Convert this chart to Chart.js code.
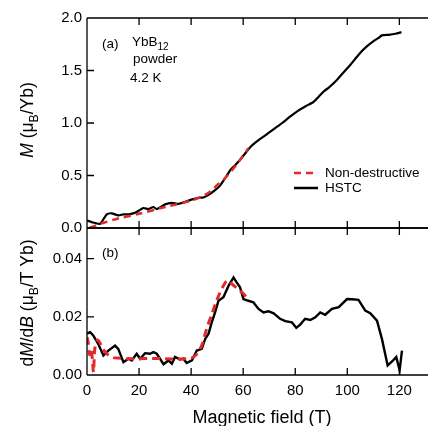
<!DOCTYPE html>
<html>
<head>
<meta charset="utf-8">
<script src="https://cdn.jsdelivr.net/npm/chart.js@4.4.0/dist/chart.umd.min.js"></script>
<style>
  body { margin: 0; background: #fff; }
  #wrap { position: relative; width: 429px; height: 426px; }
  canvas { position: absolute; left: 0; }
  #topChart { top: 0; }
  #botChart { top: 227px; }
</style>
</head>
<body>
<div id="wrap">
  <canvas id="topChart" width="429" height="240"></canvas>
  <canvas id="botChart" width="429" height="199"></canvas>
</div>
<script>
const FONT = "'Liberation Sans', Arial, Helvetica, sans-serif";
const RED = "#e3292b";

// tick labels
const tickB = [0, 20, 40, 60, 80, 100, 120];
const tickM = [0, 0.5, 1.0, 1.5, 2.0];
const tickD = [0, 0.02, 0.04];

// (a) magnetization, HSTC
const hstcB = [0, 1.8, 5, 7.6, 9.5, 12, 14, 16, 18.5, 21.7, 23.6, 25.5, 26.8, 30, 32.6, 35.1, 37.7, 40.1, 43.3, 44.7, 47, 49.2, 51, 52.4, 54, 55, 57, 58.8, 62.7, 65, 67.8, 70, 73, 75, 78, 81.3, 84, 87, 89, 90.9, 93, 96, 98.5, 101.2, 103, 105, 107.5, 110.1, 112, 113.3, 115.9, 118.5, 120.8];
const hstcM = [0.072, 0.056, 0.04, 0.13, 0.14, 0.12, 0.13, 0.13, 0.145, 0.19, 0.18, 0.2, 0.18, 0.225, 0.24, 0.23, 0.25, 0.27, 0.29, 0.29, 0.32, 0.36, 0.4, 0.45, 0.51, 0.55, 0.6, 0.65, 0.77, 0.82, 0.87, 0.91, 0.965, 1.0, 1.06, 1.12, 1.16, 1.2, 1.25, 1.3, 1.34, 1.41, 1.48, 1.555, 1.61, 1.67, 1.73, 1.78, 1.81, 1.835, 1.84, 1.85, 1.865];

// (a) magnetization, non-destructive
const ndB = [1, 4, 7, 12, 20, 30, 40, 45, 48, 50, 52, 54, 56, 58, 60, 62];
const ndM = [0, 0.03, 0.055, 0.09, 0.135, 0.2, 0.26, 0.31, 0.36, 0.41, 0.45, 0.5, 0.56, 0.62, 0.69, 0.76];

// (b) dM/dB, HSTC
const hstcDB = [0, 1.2, 2.4, 4.3, 6.3, 8.2, 10.8, 12, 14, 15.9, 17.2, 19.1, 20.4, 22.3, 24.2, 25.5, 26.8, 29.4, 31.3, 32.6, 33.8, 35.8, 37, 38.3, 40.3, 42.2, 44.1, 45.4, 46.7, 47.9, 49.2, 50.5, 52.4, 54.4, 56.3, 57.5, 58.8, 60.1, 62, 63.9, 65.9, 67.8, 69.7, 71.7, 74.2, 76.2, 78.7, 80.4, 81.9, 83.8, 85.8, 87.7, 89.6, 91.5, 94.1, 96.7, 99.9, 101.8, 104.3, 106.9, 108.8, 111.4, 113.3, 115.5, 117.6, 118.8, 120.1, 121];
const hstcD = [0.0142, 0.0147, 0.0136, 0.0107, 0.0067, 0.0084, 0.0101, 0.009, 0.0044, 0.0056, 0.005, 0.0073, 0.0056, 0.0075, 0.0073, 0.0079, 0.0073, 0.0037, 0.005, 0.0039, 0.0062, 0.0053, 0.0056, 0.0041, 0.005, 0.0084, 0.009, 0.0124, 0.0142, 0.018, 0.0215, 0.0255, 0.0267, 0.0307, 0.0335, 0.0318, 0.0301, 0.0261, 0.0255, 0.025, 0.0227, 0.0215, 0.0219, 0.0212, 0.0193, 0.0185, 0.0181, 0.0162, 0.0173, 0.0193, 0.0189, 0.0198, 0.0215, 0.0207, 0.0227, 0.0233, 0.0261, 0.026, 0.0258, 0.0221, 0.0212, 0.0187, 0.0124, 0.0033, 0.005, 0.0062, 0.0016, 0.0084];

// (b) dM/dB, non-destructive
const ndDB = [0, 0.5, 1, 1.5, 2, 2.5, 3, 4, 5, 6, 8, 10, 12, 15, 20, 25, 30, 35, 40, 42, 44, 46, 48, 50, 52, 54, 56, 58, 60, 61];
const ndD = [0.013, 0.011, 0.007, 0.009, 0.006, 0.001, 0.009, 0.012, 0.011, 0.009, 0.007, 0.006, 0.0058, 0.0056, 0.0056, 0.0057, 0.0056, 0.0055, 0.0058, 0.007, 0.01, 0.016, 0.021, 0.026, 0.03, 0.0325, 0.031, 0.0295, 0.028, 0.027];

function pts(xs, ys) {
  return xs.map((x, i) => ({ x: x, y: ys[i] }));
}

// frame + inward ticks, drawn from the chart's own scales
function frame(xTicks, yTicks) {
  return {
    id: "frame",
    afterDraw(chart) {
      const ctx = chart.ctx;
      const a = chart.chartArea;
      const xs = chart.scales.x, ys = chart.scales.y;
      ctx.save();
      ctx.strokeStyle = "#000";
      ctx.lineWidth = 1.3;
      ctx.beginPath();
      ctx.moveTo(a.left, a.top); ctx.lineTo(a.right, a.top);
      ctx.moveTo(a.left, a.bottom); ctx.lineTo(a.right, a.bottom);
      ctx.moveTo(a.left, a.top); ctx.lineTo(a.left, a.bottom);
      for (const v of xTicks) {
        const px = xs.getPixelForValue(v);
        ctx.moveTo(px, a.top); ctx.lineTo(px, a.top + 7);
        ctx.moveTo(px, a.bottom); ctx.lineTo(px, a.bottom - 7);
      }
      for (const v of yTicks) {
        const py = ys.getPixelForValue(v);
        ctx.moveTo(a.left, py); ctx.lineTo(a.left + 7, py);
      }
      ctx.stroke();
      ctx.restore();
    },
  };
}

// rotated y title with italic and subscript parts
function drawVTitle(ctx, parts, cx, cy, size) {
  ctx.save();
  ctx.translate(cx, cy);
  ctx.rotate(-Math.PI / 2);
  ctx.fillStyle = "#000";
  ctx.textBaseline = "alphabetic";
  let total = 0;
  const fonts = parts.map(p => {
    const s = p.sub ? size * 0.7 : size;
    const f = (p.it ? "italic " : "") + s + "px " + FONT;
    ctx.font = f;
    const w = ctx.measureText(p.t).width;
    total += w;
    return { f: f, w: w };
  });
  let x = -total / 2;
  parts.forEach((p, i) => {
    ctx.font = fonts[i].f;
    ctx.fillText(p.t, x, size * 0.35 + (p.sub ? size * 0.25 : 0));
    x += fonts[i].w;
  });
  ctx.restore();
}

const topText = {
  id: "topText",
  afterDraw(chart) {
    const ctx = chart.ctx;
    ctx.save();
    ctx.fillStyle = "#000";
    ctx.textBaseline = "middle";
    ctx.font = "13.5px " + FONT;
    ctx.fillText("(a)", 102, 44);
    ctx.fillText("YbB", 132, 42);
    const w = ctx.measureText("YbB").width;
    ctx.font = "10px " + FONT;
    ctx.fillText("12", 132 + w, 47);
    ctx.font = "13.5px " + FONT;
    ctx.fillText("powder", 133, 59);
    ctx.fillText("4.2 K", 130, 78);
    // legend
    ctx.fillText("Non-destructive", 325, 173);
    ctx.fillText("HSTC", 325, 188);
    ctx.lineWidth = 2.5;
    ctx.strokeStyle = RED;
    ctx.setLineDash([7, 5]);
    ctx.beginPath(); ctx.moveTo(294, 173); ctx.lineTo(318, 173); ctx.stroke();
    ctx.setLineDash([]);
    ctx.strokeStyle = "#000";
    ctx.beginPath(); ctx.moveTo(294, 188); ctx.lineTo(318, 188); ctx.stroke();
    ctx.restore();
    drawVTitle(ctx, [{ t: "M", it: true }, { t: " (μ" }, { t: "B", sub: true }, { t: "/Yb)" }], 27, 120, 17.5);
  },
};

const botText = {
  id: "botText",
  afterDraw(chart) {
    const ctx = chart.ctx;
    ctx.save();
    ctx.fillStyle = "#000";
    ctx.textBaseline = "middle";
    ctx.font = "13.5px " + FONT;
    ctx.fillText("(b)", 102, 26);
    ctx.font = "18px " + FONT;
    ctx.textAlign = "center";
    ctx.fillText("Magnetic field (T)", 262, 191);
    ctx.restore();
    drawVTitle(ctx, [{ t: "d" }, { t: "M", it: true }, { t: "/d" }, { t: "B", it: true }, { t: " (μ" }, { t: "B", sub: true }, { t: "/T Yb)" }], 27, 76, 17.5);
  },
};

function yAxis(min, max, ticks, digits) {
  return {
    type: "linear",
    min: min,
    max: max,
    afterFit: s => { s.width = 87; s.paddingTop = 0; s.paddingBottom = 0; },
    afterBuildTicks: s => { s.ticks = ticks.map(v => ({ value: v })); },
    grid: { display: false, drawTicks: false },
    border: { display: false },
    ticks: {
      padding: 5,
      color: "#000",
      font: { family: FONT, size: 15 },
      callback: v => Number(v).toFixed(digits),
    },
  };
}

Chart.defaults.animation = false;

new Chart(document.getElementById("topChart"), {
  type: "line",
  data: {
    datasets: [
      { label: "Non-destructive", data: pts(ndB, ndM), borderColor: RED, borderWidth: 2.5, borderDash: [7, 5], pointRadius: 0, tension: 0.3 },
      { label: "HSTC", data: pts(hstcB, hstcM), borderColor: "#000", borderWidth: 2.2, pointRadius: 0, tension: 0.2 },
    ],
  },
  options: {
    responsive: false,
    devicePixelRatio: 1,
    layout: { padding: { top: 18, right: 1, bottom: 12, left: 0 } },
    plugins: { legend: { display: false }, tooltip: { enabled: false } },
    scales: {
      x: { type: "linear", min: 0, max: 131, display: false },
      y: yAxis(0, 2.0, tickM, 1),
    },
  },
  plugins: [frame(tickB, tickM), topText],
});

new Chart(document.getElementById("botChart"), {
  type: "line",
  data: {
    datasets: [
      { label: "Non-destructive", data: pts(ndDB, ndD), borderColor: RED, borderWidth: 3, borderDash: [8, 5], pointRadius: 0, tension: 0.3 },
      { label: "HSTC", data: pts(hstcDB, hstcD), borderColor: "#000", borderWidth: 2.4, pointRadius: 0, tension: 0 },
    ],
  },
  options: {
    responsive: false,
    devicePixelRatio: 1,
    layout: { padding: { top: 1, right: 1, bottom: 0, left: 0 } },
    plugins: { legend: { display: false }, tooltip: { enabled: false } },
    scales: {
      x: {
        type: "linear",
        min: 0,
        max: 131,
        afterFit: s => { s.height = 51; s.paddingLeft = 0; s.paddingRight = 0; },
        afterBuildTicks: s => { s.ticks = tickB.map(v => ({ value: v })); },
        grid: { display: false, drawTicks: false },
        border: { display: false },
        ticks: { padding: 7, color: "#000", maxRotation: 0, font: { family: FONT, size: 15 } },
      },
      y: yAxis(0, 0.0505, tickD, 2),
    },
  },
  plugins: [frame(tickB, tickD), botText],
});
</script>
</body>
</html>
